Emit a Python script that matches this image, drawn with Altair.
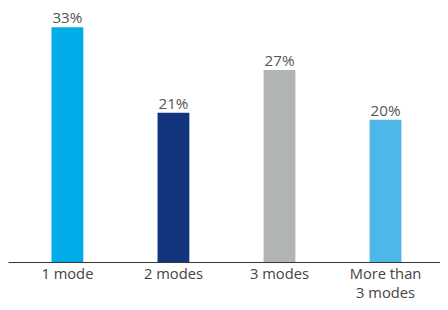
import altair as alt
import pandas as pd

categories = ["1 mode", "2 modes", "3 modes", "More than\n3 modes"]
values = [33, 21, 27, 20]
labels = ["33%", "21%", "27%", "20%"]
colors = ["#00ADE8", "#12357E", "#B1B4B5", "#4DB8E8"]

df = pd.DataFrame({"cat": categories, "val": values, "lab": labels, "col": colors})

x = alt.X("cat:N", sort=categories, title=None,
          scale=alt.Scale(paddingInner=0.7, paddingOuter=0.387, align=0.53),
          axis=alt.Axis(labelAngle=0, ticks=False, domainColor="#333333", domainWidth=1,
                        labelFont="Open Sans", labelFontSize=15, labelColor="#444444",
                        labelPadding=5, labelLineHeight=19,
                        labelExpr="split(datum.label, '\\n')"))
y = alt.Y("val:Q", scale=alt.Scale(domain=[0, 35.2], nice=False), axis=None)

bars = alt.Chart(df).mark_bar().encode(x=x, y=y, color=alt.Color("col:N", scale=None))
text = alt.Chart(df).mark_text(baseline="alphabetic", dy=-4, font="Open Sans",
                               fontSize=15.5, color="#555555").encode(x=x, y=y, text="lab:N")

chart = (bars + text).properties(width=440, height=255, padding=0).configure_view(stroke=None)
chart.save("out.html", embed_options={"renderer": "svg", "actions": False})
